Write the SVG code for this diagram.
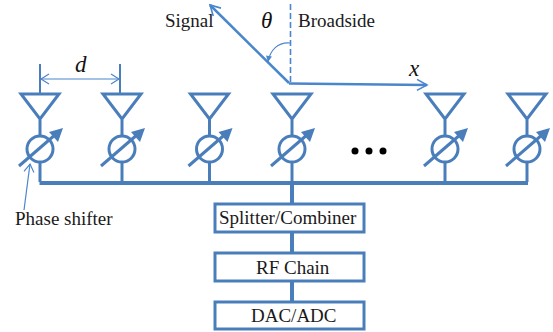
<svg xmlns="http://www.w3.org/2000/svg" width="553" height="332" viewBox="0 0 553 332">
<style>
.l{fill:none;stroke:#4a7ebb;stroke-width:3}
.a{fill:none;stroke:#4a86cc}
.box{fill:#fff;stroke:#4a7ebb;stroke-width:3}
.t{font-family:"Liberation Serif",serif;font-size:19px;fill:#1a1a1a}
.m{font-family:"Liberation Serif",serif;font-style:italic;font-size:23px;fill:#111}
</style>
<defs>
<marker id="o" markerUnits="userSpaceOnUse" markerWidth="14" markerHeight="14" refX="11" refY="7" orient="auto"><path d="M1 1.500L11 7L1 12.500" fill="none" stroke="#4a86cc" stroke-width="1.600"/></marker>
<marker id="s" markerUnits="userSpaceOnUse" markerWidth="14" markerHeight="14" refX="10" refY="7" orient="auto-start-reverse"><path d="M2 2L10 7L2 12" fill="none" stroke="#4a86cc" stroke-width="1.200"/></marker>
<marker id="f" markerUnits="userSpaceOnUse" markerWidth="10" markerHeight="10" refX="7" refY="5" orient="auto"><path d="M1 2L7 5L1 8Z" fill="#4a86cc"/></marker>
<g id="ant">
<path class="l" d="M-19 -55L19 -55L0 -30ZM0 -30V-14M0 14V33"/>
<circle class="l" cx="0" cy="0" r="13"/>
<path class="l" d="M-21 17L16 -15"/>
<path d="M23 -21L9 -17L18 -7Z" fill="#4a7ebb"/>
</g>
</defs>
<g id="connectors">
<path class="l" style="stroke-width:4" d="M39.500 183H528"/>
<path class="l" style="stroke-width:4" d="M292 183V203M292 232V253M292 281V301"/>
<path class="a" style="stroke-width:2.500" d="M289 83L210 5" marker-end="url(#o)"/>
<path class="a" style="stroke-width:2.500" d="M289 83.500L427 85" marker-end="url(#o)"/>
<path class="a" style="stroke-width:1.600" stroke-dasharray="6 3" d="M290.500 4V83"/>
<path class="a" style="stroke-width:1.100" d="M290 43C278 42 270 50 268 62" marker-end="url(#f)"/>
<path class="l" style="stroke-width:2" d="M40 64V94M120 64V94"/>
<path class="a" style="stroke-width:1.200" d="M41 79H119" marker-start="url(#s)" marker-end="url(#s)"/>
<path class="a" style="stroke-width:1.200" d="M24 210L30 164" marker-end="url(#s)"/>
</g>
<g id="ant1"><use href="#ant" x="40" y="149"/></g>
<g id="ant2"><use href="#ant" x="122" y="149"/></g>
<g id="ant3"><use href="#ant" x="209.500" y="149"/></g>
<g id="ant4"><use href="#ant" x="292" y="149"/></g>
<g id="ant5"><use href="#ant" x="445" y="149"/></g>
<g id="ant6"><use href="#ant" x="527" y="149"/></g>
<g id="dots" fill="#000"><circle cx="355" cy="151" r="3.500"/><circle cx="369" cy="151" r="3.500"/><circle cx="383" cy="151" r="3.500"/></g>
<g id="splitter"><rect class="box" x="215" y="204" width="149" height="28"/><text class="t" x="219" y="224">Splitter/Combiner</text></g>
<g id="rf"><rect class="box" x="215" y="253" width="149" height="28"/><text class="t" x="256" y="274">RF Chain</text></g>
<g id="dac"><rect class="box" x="215" y="302" width="149" height="27"/><text class="t" x="251" y="322">DAC/ADC</text></g>
<g id="labels">
<text class="t" x="165" y="27">Signal</text>
<text class="t" x="298" y="27">Broadside</text>
<text class="t" x="15" y="225">Phase shifter</text>
<text class="m" x="261" y="28">θ</text>
<text class="m" x="75" y="72">d</text>
<text class="m" x="409" y="76">x</text>
</g>
</svg>
